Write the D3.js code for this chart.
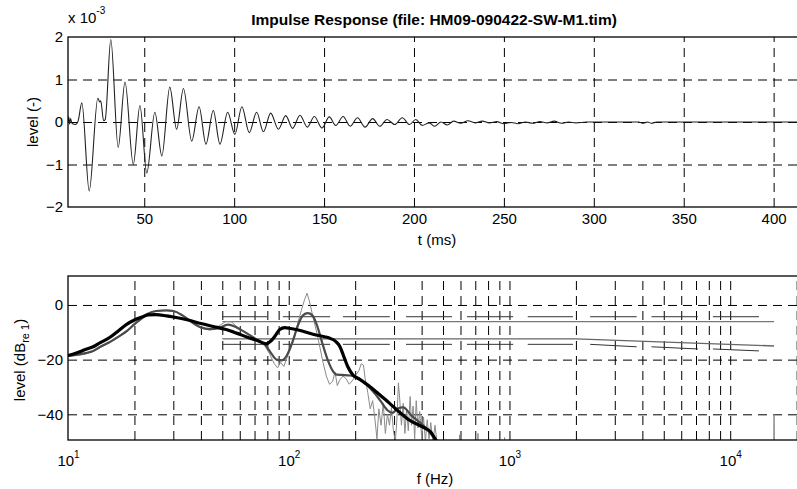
<!DOCTYPE html>
<html>
<head>
<meta charset="utf-8">
<script src="https://cdn.jsdelivr.net/npm/d3@7"></script>
<style>
  body { margin: 0; background: #fff; }
  svg { display: block; font-family: "Liberation Sans", Arial, sans-serif; }
  .grid line { stroke: #000; stroke-dasharray: 9,6; stroke-width: 1; }
  .grid path { display: none; }
  .lbl path, .lbl line { display: none; }
  .lbl text { font-size: 15px; fill: #000; }
</style>
</head>
<body>
<svg width="797" height="489"></svg>
<script>
// impulse response, extrema (t in ms, level x 1e-3)
var irT = [7.6, 8.0, 8.5, 9.0, 9.8, 11.8, 13.2, 15.3, 19.4, 24.2, 25.3, 25.8, 27.4, 28.3,
  31.4, 35.5, 39.3, 43.9, 47.6, 51.4, 55.9, 59.8, 64.2, 68.0, 71.8, 76.4, 80.5, 84.3,
  88.4, 92.1, 96.4, 100.4, 104.3, 108.4, 112.5, 116.3, 120.3, 124.6, 128.7, 132.5,
  136.6, 140.7, 144.6, 148.8, 152.9, 156.5, 160.6, 164.5, 168.6, 172.8, 177.0, 181.0,
  185.0, 189.3, 193.5, 197.5, 201.0, 204.5, 208.5, 211.5, 215, 218.5, 222, 226, 230,
  234, 238, 242, 246, 250, 254, 258, 262, 266, 270, 274, 278, 282, 286, 290, 296,
  325, 327, 330, 332, 335, 418];
var irV = [0, 0.12, -0.05, 0.08, -0.03, -0.06, 0.02, 0.45, -1.62, 0.56, 0.47, 0.5, 0.03, 0.06,
  1.94, -0.6, 0.94, -1.0, 0.39, -1.2, 0.23, -0.8, 0.82, -0.17, 0.79, -0.45, 0.36, -0.52,
  0.27, -0.52, 0.23, -0.29, 0.36, -0.25, 0.23, -0.23, 0.21, -0.17, 0.15, -0.15,
  0.16, -0.12, 0.13, -0.14, 0.12, -0.08, 0.13, -0.1, 0.1, -0.12, 0.08, -0.1,
  0.06, -0.06, 0.1, -0.06, 0.06, -0.08, -0.02, -0.1, 0.0, -0.07, 0.02, -0.03, 0.03,
  -0.02, 0.02, -0.02, 0.01, -0.04, -0.01, -0.04, 0.0, -0.03, 0.01, -0.02, 0.02, -0.03, 0.0, -0.02, 0,
  0, -0.03, 0, -0.03, 0, 0];

var tTicks = [50, 100, 150, 200, 250, 300, 350, 400];
var levelTicks = [-2, -1, 0, 1, 2];

// spectrum curves (f in Hz, level in dB re 1)
var fBlack = [10, 11, 12, 13, 14, 15.5, 17, 18.5, 20, 21.5, 23, 25, 28, 30, 35, 40, 45, 52, 58, 65,
  72, 79, 83, 87, 91, 96, 102, 115, 130, 145, 155, 163, 170, 177, 185, 195, 210, 230, 255,
  285, 315, 350, 390, 420, 440, 465, 480];
var dbBlack = [-18.5, -17.5, -16.3, -15.3, -13.8, -11.8, -9.3, -7.0, -5.5, -4.5, -3.6, -3.5, -4.0, -4.4,
  -5.5, -6.8, -7.8, -9.0, -10.3, -11.8, -13.0, -14.2, -13.2, -11.2, -9.0, -8.3, -8.6, -9.5,
  -10.8, -11.6, -12.3, -13.3, -15.0, -18.5, -22.5, -25.5, -27.2, -29.5, -32.5, -35.8, -39.0,
  -42.0, -44.0, -45.3, -46.5, -49.5, -51];

var fMid = [10, 11, 12, 13, 14, 15.5, 17, 18.5, 20, 21.5, 23, 25, 28, 30, 33, 36, 40, 44, 48, 53,
  58, 65, 72, 78, 83, 88, 93, 98, 104, 110, 116, 122, 128, 135, 142, 150, 158, 165, 175,
  190, 211, 240, 260, 280, 295, 310, 330, 360, 400, 440, 470];
var dbMid = [-18.6, -18.2, -17.6, -16.8, -15.3, -13.5, -11.5, -9.5, -7.0, -5.0, -3.2, -2.2, -2.0,
  -2.2, -3.8, -6.0, -8.2, -8.8, -8.5, -7.2, -8.2, -10.5, -12.8, -14.5, -17.5, -20.0, -20.3,
  -18.5, -13.5, -7.5, -3.8, -3.0, -3.8, -8.0, -14.0, -20.0, -24.0, -25.5, -25.6, -25.8,
  -27.4, -31.5, -35.0, -38.5, -39.5, -38.0, -37.5, -40.5, -43.5, -47.0, -50.5];

var fRaw = [10, 11, 12, 13, 14, 15.5, 17, 18.5, 20, 21.5, 23, 25, 27, 29, 31, 33, 36, 40, 44, 48,
  52, 55, 58, 63, 68, 73, 78, 82, 86, 89, 92, 95, 98, 102, 106, 110, 114, 118, 121, 124,
  128, 133, 138, 143, 148, 153, 158, 162, 166, 170, 176, 182, 188, 195, 202, 208, 213,
  218, 222, 228, 234, 240, 246, 251, 256, 262, 268, 274, 280, 286, 292, 298, 304, 309,
  314, 318, 324, 330, 336, 342, 348, 355, 360, 366, 372, 378, 385, 392, 400, 408, 416,
  424, 432, 440, 450, 460, 470, 480, 590, 594, 598, 715, 720, 725, 940, 950, 960,
  15700, 15800, 15900, 22000];
var dbRaw = [-18.8, -18.5, -18.0, -17.0, -15.6, -13.8, -11.8, -9.8, -7.3, -5.2, -3.4, -2.4, -2.0,
  -2.2, -2.6, -4.0, -6.3, -8.5, -9.2, -7.8, -6.0, -6.2, -7.8, -10.0, -11.8, -13.2, -15.0,
  -18.0, -21.5, -23.0, -21.0, -22.5, -19.5, -16.0, -12.0, -6.5, -2.0, 2.0, 4.3, 1.5, -3.5,
  -9.0, -15.0, -21.0, -26.0, -29.0, -28.0, -24.5, -29.5, -27.5, -26.0, -27.0, -29.0, -27.5,
  -25.5, -24.0, -21.5, -22.0, -27.0, -32.0, -38.0, -35.0, -42.0, -49.0, -38.0, -44.0,
  -36.0, -47.0, -40.0, -44.0, -37.5, -46.0, -50.0, -42.0, -28.5, -34.0, -44.0, -36.0,
  -47.0, -38.0, -46.0, -33.5, -44.0, -37.0, -49.0, -35.0, -45.0, -39.0, -48.0, -41.0,
  -50.0, -42.0, -49.0, -43.0, -50.0, -44.0, -50.5, -58, -60, -47.5, -60, -60, -47, -60,
  -60, -48.5, -60, -60, -40, -60, -60];

// reference lines from 50 Hz
var refFlatF = [50, 15800], refFlatDb = [-6.1, -6.1];
var refSlopeF = [50, 2000, 15800], refSlopeDb = [-12.4, -12.4, -15.0];
var bandLo = [50, 94, 176, 340, 642, 1210, 2320, 4400, 8350];
var bandHi = [80, 154, 287, 549, 1040, 1940, 3770, 7140, 13500];
var bandUpperDb = [-4.3, -4.3, -4.3, -4.3, -4.3, -4.3, -4.3, -4.3, -4.3];
var bandLowStartDb = [-14.4, -14.4, -14.4, -14.4, -14.4, -14.4, -14.4, -15.3, -16.1];
var bandLowEndDb = [-14.4, -14.4, -14.4, -14.4, -14.4, -14.4, -15.3, -16.1, -16.8];

var dbTicks = [-40, -20, 0];
var decades = [10, 100, 1000, 10000];
var minorF = [20, 30, 40, 50, 60, 70, 80, 90, 200, 300, 400, 500, 600, 700, 800, 900,
  2000, 3000, 4000, 5000, 6000, 7000, 8000, 9000, 20000];

var svg = d3.select('svg');

// ---------- top: impulse response ----------
var x1 = d3.scaleLinear().domain([7.6, 418]).range([68, 806]);
var y1 = d3.scaleLinear().domain([-2, 2]).range([207, 37]);

svg.append('clipPath').attr('id', 'c1').append('rect')
  .attr('x', 68).attr('y', 37).attr('width', 738).attr('height', 170);

var g1 = svg.append('g');
g1.append('g').attr('class', 'grid').attr('transform', 'translate(0,207)')
  .call(d3.axisBottom(x1).tickValues(tTicks).tickSize(-170).tickFormat(''));
g1.append('g').attr('class', 'grid').attr('transform', 'translate(68,0)')
  .call(d3.axisLeft(y1).tickValues([-1, 0, 1]).tickSize(-738).tickFormat(''));

var irData = irT.map(function (t, i) { return [t, irV[i]]; });
g1.append('path').datum(irData)
  .attr('clip-path', 'url(#c1)')
  .attr('fill', 'none').attr('stroke', '#222').attr('stroke-width', 1.1)
  .attr('d', d3.line().x(function (d) { return x1(d[0]); }).y(function (d) { return y1(d[1]); })
    .curve(d3.curveMonotoneX));

g1.append('rect').attr('x', 68).attr('y', 37).attr('width', 738).attr('height', 170)
  .attr('fill', 'none').attr('stroke', '#000').attr('stroke-width', 1.3);

g1.append('g').attr('class', 'lbl').attr('transform', 'translate(0,207)')
  .call(d3.axisBottom(x1).tickValues(tTicks).tickSize(0).tickPadding(6));
g1.append('g').attr('class', 'lbl').attr('transform', 'translate(68,0)')
  .call(d3.axisLeft(y1).tickValues(levelTicks).tickSize(0).tickPadding(5).tickFormat(d3.format('d')));

var mult = svg.append('text').attr('x', 68).attr('y', 23).attr('font-size', 15);
mult.append('tspan').text('x 10');
mult.append('tspan').attr('font-size', 10).attr('dy', -9).text('-3');

svg.append('text').attr('x', 434).attr('y', 24.5).attr('text-anchor', 'middle')
  .attr('font-size', 15.5).attr('font-weight', 'bold')
  .text('Impulse Response (file: HM09-090422-SW-M1.tim)');
svg.append('text').attr('x', 437).attr('y', 245).attr('text-anchor', 'middle')
  .attr('font-size', 15).text('t (ms)');
svg.append('text').attr('transform', 'translate(38,122) rotate(-90)')
  .attr('text-anchor', 'middle').attr('font-size', 15).text('level (-)');

// ---------- bottom: spectrum ----------
var x2 = d3.scaleLog().domain([10, 22050]).range([68, 806]);
var y2 = d3.scaleLinear().domain([-49.4, 10.6]).range([440, 276]);

svg.append('clipPath').attr('id', 'c2').append('rect')
  .attr('x', 68).attr('y', 276).attr('width', 738).attr('height', 164);

var g2 = svg.append('g');
g2.append('g').attr('class', 'grid').attr('transform', 'translate(0,440)')
  .call(d3.axisBottom(x2).tickValues(minorF).tickSize(-164).tickFormat(''));
g2.append('g').attr('class', 'grid major').attr('transform', 'translate(0,440)')
  .call(d3.axisBottom(x2).tickValues(decades.slice(1)).tickSize(-164).tickFormat(''));
g2.selectAll('.major line').attr('stroke-width', 1.7);
g2.append('g').attr('class', 'grid').attr('transform', 'translate(68,0)')
  .call(d3.axisLeft(y2).tickValues(dbTicks).tickSize(-738).tickFormat(''));

var line2 = d3.line().x(function (d) { return x2(d[0]); }).y(function (d) { return y2(d[1]); });
function pairs(f, v) { return f.map(function (a, i) { return [a, v[i]]; }); }

var cg = g2.append('g').attr('clip-path', 'url(#c2)');

// band segments and reference lines
bandLo.forEach(function (lo, i) {
  cg.append('path').datum([[lo, bandUpperDb[i]], [bandHi[i], bandUpperDb[i]]])
    .attr('d', line2).attr('fill', 'none').attr('stroke', '#333').attr('stroke-width', 1);
  cg.append('path').datum([[lo, bandLowStartDb[i]], [bandHi[i], bandLowEndDb[i]]])
    .attr('d', line2).attr('fill', 'none').attr('stroke', '#333').attr('stroke-width', 1);
});
cg.append('path').datum(pairs(refFlatF, refFlatDb))
  .attr('d', line2).attr('fill', 'none').attr('stroke', '#777').attr('stroke-width', 1.4);
cg.append('path').datum(pairs(refSlopeF, refSlopeDb))
  .attr('d', line2).attr('fill', 'none').attr('stroke', '#666').attr('stroke-width', 1.4);

cg.append('path').datum(pairs(fRaw, dbRaw))
  .attr('d', line2).attr('fill', 'none').attr('stroke', '#8a8a8a').attr('stroke-width', 1);
cg.append('path').datum(pairs(fMid, dbMid))
  .attr('d', line2.curve(d3.curveMonotoneX)).attr('fill', 'none')
  .attr('stroke', '#4a4a4a').attr('stroke-width', 2.2);
cg.append('path').datum(pairs(fBlack, dbBlack))
  .attr('d', line2.curve(d3.curveMonotoneX)).attr('fill', 'none')
  .attr('stroke', '#000').attr('stroke-width', 3.2);

g2.append('rect').attr('x', 68).attr('y', 276).attr('width', 738).attr('height', 164)
  .attr('fill', 'none').attr('stroke', '#000').attr('stroke-width', 1.3);

g2.append('g').attr('class', 'lbl').attr('transform', 'translate(68,0)')
  .call(d3.axisLeft(y2).tickValues(dbTicks).tickSize(0).tickPadding(5));

var xl = g2.append('g').attr('class', 'lbl').attr('transform', 'translate(0,440)')
  .call(d3.axisBottom(x2).tickValues(decades).tickSize(0).tickPadding(15));
xl.selectAll('text').text(null).each(function (d) {
  var t = d3.select(this);
  t.append('tspan').text('10');
  t.append('tspan').attr('font-size', 10).attr('dy', -8).text(Math.round(Math.log10(d)));
});

svg.append('text').attr('x', 435).attr('y', 484).attr('text-anchor', 'middle')
  .attr('font-size', 15).text('f (Hz)');
var yl = svg.append('text').attr('transform', 'translate(25,360) rotate(-90)')
  .attr('text-anchor', 'middle').attr('font-size', 15);
yl.append('tspan').text('level (dB');
yl.append('tspan').attr('font-size', 11).attr('dy', 4).text('re 1');
yl.append('tspan').attr('dy', -4).text(')');
</script>
</body>
</html>
